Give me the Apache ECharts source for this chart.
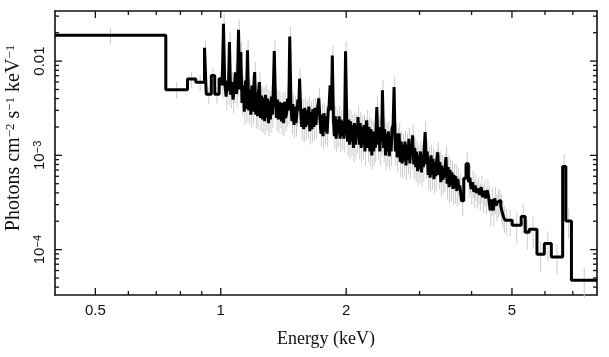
<!DOCTYPE html>
<html><head><meta charset="utf-8">
<script src="https://cdn.jsdelivr.net/npm/echarts@6/dist/echarts.min.js"></script>
<style>html,body{margin:0;padding:0;background:#fff}#c{width:609px;height:357px}</style>
</head><body><div id="c"></div>
<script>
// Spectrum bins: [lower edge (keV), flux (photons cm^-2 s^-1 keV^-1)]
const spectrumBins = [
  [0.4, 0.01875], [0.738, 0.00498], [0.832, 0.00645], [0.871, 0.00598], [0.914, 0.01387],
  [0.923, 0.00444], [0.949, 0.00705], [0.967, 0.00444], [0.991, 0.0065], [1.008, 0.0055],
  [1.015, 0.0249], [1.022, 0.0059], [1.030, 0.0042], [1.037, 0.0062], [1.043, 0.0048],
  [1.049, 0.0159], [1.056, 0.0044], [1.063, 0.0060], [1.070, 0.0039], [1.077, 0.0050],
  [1.084, 0.0076], [1.091, 0.0045], [1.097, 0.0058], [1.103, 0.02153], [1.111, 0.0050],
  [1.117, 0.01245], [1.125, 0.0036], [1.132, 0.0055], [1.139, 0.0029], [1.146, 0.0062],
  [1.152, 0.0031], [1.159, 0.01299], [1.167, 0.0030], [1.174, 0.0050], [1.181, 0.0027],
  [1.188, 0.0055], [1.195, 0.0029], [1.200, 0.0048], [1.206, 0.00765], [1.214, 0.0027],
  [1.220, 0.0046], [1.226, 0.0026], [1.232, 0.0047], [1.238, 0.00599], [1.246, 0.0025],
  [1.253, 0.0043], [1.260, 0.0024], [1.267, 0.0041], [1.274, 0.0023], [1.281, 0.0044],
  [1.288, 0.0025], [1.295, 0.0040], [1.302, 0.0022], [1.309, 0.0038], [1.316, 0.0024],
  [1.323, 0.0042], [1.330, 0.0027], [1.337, 0.0049], [1.344, 0.01276], [1.353, 0.0038],
  [1.360, 0.0025], [1.368, 0.0039], [1.375, 0.0024], [1.383, 0.0037], [1.391, 0.0027],
  [1.399, 0.0023], [1.407, 0.0036], [1.415, 0.0022], [1.423, 0.0037], [1.431, 0.0025],
  [1.439, 0.0028], [1.447, 0.0040], [1.456, 0.0030], [1.464, 0.01828], [1.474, 0.0034],
  [1.482, 0.0023], [1.490, 0.0035], [1.499, 0.0021], [1.507, 0.0033], [1.515, 0.0022],
  [1.523, 0.0028], [1.531, 0.0039], [1.539, 0.0030], [1.546, 0.00651], [1.556, 0.0029],
  [1.564, 0.0020], [1.573, 0.0031], [1.582, 0.0019], [1.591, 0.0032], [1.600, 0.0020],
  [1.609, 0.0030], [1.618, 0.0021], [1.627, 0.0033], [1.636, 0.0018], [1.645, 0.0029],
  [1.655, 0.0019], [1.664, 0.0031], [1.673, 0.0020], [1.683, 0.0032], [1.692, 0.0021],
  [1.701, 0.0030], [1.710, 0.0033], [1.719, 0.00402], [1.731, 0.0023], [1.740, 0.0017],
  [1.750, 0.0027], [1.760, 0.0016], [1.770, 0.0028], [1.780, 0.0018], [1.790, 0.0026],
  [1.800, 0.0017], [1.810, 0.0029], [1.820, 0.0034], [1.830, 0.00552], [1.845, 0.0030],
  [1.852, 0.01149], [1.865, 0.0023], [1.873, 0.0016], [1.883, 0.0026], [1.893, 0.0015],
  [1.903, 0.0024], [1.913, 0.0017], [1.924, 0.0026], [1.934, 0.0015], [1.944, 0.0024],
  [1.954, 0.0016], [1.965, 0.0023], [1.975, 0.0015], [1.983, 0.0021], [1.993, 0.01268],
  [2.007, 0.0021], [2.016, 0.0014], [2.027, 0.0024], [2.038, 0.0013], [2.049, 0.0023],
  [2.060, 0.0014], [2.071, 0.0021], [2.082, 0.0012], [2.093, 0.0022], [2.104, 0.0013],
  [2.115, 0.0021], [2.126, 0.0015], [2.135, 0.00255], [2.150, 0.0013], [2.161, 0.0022],
  [2.173, 0.0012], [2.184, 0.0020], [2.196, 0.0013], [2.207, 0.0021], [2.219, 0.0011],
  [2.230, 0.0019], [2.240, 0.00235], [2.256, 0.0012], [2.268, 0.0020], [2.280, 0.0011],
  [2.292, 0.0019], [2.304, 0.0010], [2.316, 0.0018], [2.328, 0.0011], [2.340, 0.0017],
  [2.350, 0.0012], [2.360, 0.0020], [2.369, 0.00325], [2.385, 0.0013], [2.397, 0.0020],
  [2.409, 0.0011], [2.421, 0.0019], [2.432, 0.0014], [2.444, 0.00489], [2.460, 0.0012],
  [2.473, 0.0019], [2.486, 0.0010], [2.499, 0.0017], [2.512, 0.0011], [2.525, 0.0018],
  [2.538, 0.00098], [2.551, 0.0016], [2.564, 0.0011], [2.577, 0.0019], [2.592, 0.0021],
  [2.606, 0.0053], [2.624, 0.0011], [2.638, 0.0017], [2.652, 0.00095], [2.666, 0.0015],
  [2.680, 0.00171], [2.697, 0.00085], [2.711, 0.0014], [2.725, 0.00082], [2.739, 0.0013],
  [2.754, 0.00088], [2.769, 0.0014], [2.784, 0.00078], [2.799, 0.0013], [2.814, 0.00090],
  [2.829, 0.0015], [2.844, 0.00082], [2.859, 0.0013], [2.873, 0.0010], [2.887, 0.00163],
  [2.906, 0.0008], [2.921, 0.0012], [2.937, 0.00075], [2.952, 0.0011], [2.968, 0.00068],
  [2.984, 0.0010], [3.000, 0.00072], [3.016, 0.0011], [3.032, 0.00066], [3.048, 0.0010],
  [3.064, 0.00075], [3.079, 0.0012], [3.094, 0.00177], [3.114, 0.00080], [3.130, 0.0011],
  [3.147, 0.00062], [3.164, 0.00095], [3.181, 0.00058], [3.198, 0.0010], [3.215, 0.00062],
  [3.232, 0.00092], [3.249, 0.00056], [3.266, 0.00085], [3.283, 0.00060], [3.300, 0.00090],
  [3.318, 0.00108], [3.339, 0.00062], [3.357, 0.00085], [3.375, 0.00052], [3.393, 0.00078],
  [3.411, 0.00055], [3.429, 0.00072], [3.448, 0.00058], [3.460, 0.00080], [3.472, 0.000959],
  [3.494, 0.00050], [3.513, 0.00075], [3.532, 0.00046], [3.551, 0.00070], [3.570, 0.00048],
  [3.589, 0.00066], [3.608, 0.00044], [3.628, 0.00062], [3.648, 0.00045], [3.667, 0.00060],
  [3.687, 0.00042], [3.707, 0.00056], [3.727, 0.00045], [3.747, 0.00048], [3.785, 0.00033],
  [3.830, 0.00057], [3.880, 0.000817], [3.930, 0.00052], [3.960, 0.00058], [3.990, 0.00044],
  [4.020, 0.00052], [4.050, 0.00041], [4.080, 0.00048], [4.110, 0.00040], [4.146, 0.000445],
  [4.181, 0.00038], [4.216, 0.00046], [4.251, 0.00036], [4.286, 0.00042], [4.323, 0.00035],
  [4.360, 0.000426], [4.396, 0.00036], [4.432, 0.000261], [4.469, 0.00034], [4.507, 0.00026],
  [4.544, 0.00035], [4.582, 0.000295], [4.620, 0.00032], [4.659, 0.000333], [4.700, 0.00029],
  [4.737, 0.000249], [4.776, 0.00022], [4.816, 0.000205], [4.896, 0.000205], [5.006, 0.000181],
  [5.262, 0.000225], [5.380, 0.000153], [5.501, 0.000164], [5.741, 0.0000892], [5.979, 0.0001158],
  [6.215, 0.0000835], [6.617, 0.000764], [6.735, 0.000201], [6.946, 0.0000472]
];
const spectrumUpperEdge = 8.0;
// Estimated relative 1-sigma error per energy band: [band start keV, relative error]
const errorBands = [[0.4, 0.2], [1.0, 0.28], [2.0, 0.3], [3.5, 0.32], [5.0, 0.35]];

const xRange = [0.4, 8];
const yRange = [3.3e-5, 0.034];
const xMajorTicks = [0.5, 1, 2, 5];
const xTickLabels = ['0.5', '1', '2', '5'];
const xMinorTicks = [0.6, 0.7, 0.8, 0.9, 3, 4, 6, 7];
const yMajorTicks = [1e-4, 1e-3, 1e-2];
const yTickLabels = ['10{s|\u22124}', '10{s|\u22123}', '0.01'];
const yMinorTicks = [4e-5, 5e-5, 6e-5, 7e-5, 8e-5, 9e-5,
  2e-4, 3e-4, 4e-4, 5e-4, 6e-4, 7e-4, 8e-4, 9e-4,
  2e-3, 3e-3, 4e-3, 5e-3, 6e-3, 7e-3, 8e-3, 9e-3, 2e-2, 3e-2];

const stepData = spectrumBins.map(b => [b[0], b[1]]);
stepData.push([spectrumUpperEdge, spectrumBins[spectrumBins.length - 1][1]]);

function relErr(e) {
  let r = errorBands[0][1];
  errorBands.forEach(b => { if (e >= b[0]) r = b[1]; });
  return r;
}
const errData = spectrumBins.map((b, i) => {
  const hi = i + 1 < spectrumBins.length ? spectrumBins[i + 1][0] : spectrumUpperEdge;
  const c = Math.sqrt(b[0] * hi);
  const r = relErr(c);
  return [c, b[1] * (1 - r), b[1] * (1 + r)];
});

function matchLabel(v, ticks, labels) {
  for (let i = 0; i < ticks.length; i++) {
    if (Math.abs(Math.log10(v) - Math.log10(ticks[i])) < 0.01) return labels[i];
  }
  return '';
}

function renderErr(params, api) {
  const lo = api.coord([api.value(0), api.value(1)]);
  const hi = api.coord([api.value(0), api.value(2)]);
  return { type: 'line', shape: { x1: lo[0], y1: lo[1], x2: hi[0], y2: hi[1] },
    style: { stroke: '#cbcbcb', lineWidth: 1 } };
}

function renderTicks(params, api) {
  const p0 = api.coord([xRange[0], yRange[0]]);
  const p1 = api.coord([xRange[1], yRange[1]]);
  const left = p0[0], bottom = p0[1], right = p1[0], top = p1[1];
  const children = [];
  const add = (x1, y1, x2, y2) => children.push({
    type: 'line', shape: { x1, y1, x2, y2 }, style: { stroke: '#111', lineWidth: 1.3 }
  });
  const MAJ = 7, MIN = 4;
  xMajorTicks.forEach(v => { const x = api.coord([v, yRange[0]])[0]; add(x, bottom, x, bottom - MAJ); add(x, top, x, top + MAJ); });
  xMinorTicks.forEach(v => { const x = api.coord([v, yRange[0]])[0]; add(x, bottom, x, bottom - MIN); add(x, top, x, top + MIN); });
  yMajorTicks.forEach(v => { const y = api.coord([xRange[0], v])[1]; add(left, y, left + MAJ, y); add(right, y, right - MAJ, y); });
  yMinorTicks.forEach(v => { const y = api.coord([xRange[0], v])[1]; add(left, y, left + MIN, y); add(right, y, right - MIN, y); });
  return { type: 'group', children };
}

const axisLineStyle = { show: true, lineStyle: { color: '#111', width: 1.6 } };
const chart = echarts.init(document.getElementById('c'), null, { renderer: 'canvas' });
chart.setOption({
  animation: false,
  backgroundColor: '#fff',
  grid: { left: 55, right: 12, top: 11, bottom: 62, containLabel: false, outerBoundsMode: 'none' },
  xAxis: [{
    type: 'log', logBase: 10, min: xRange[0], max: xRange[1],
    position: 'bottom',
    axisLine: axisLineStyle, axisTick: { show: false }, splitLine: { show: false }, minorTick: { show: false },
    axisLabel: {
      customValues: xMajorTicks, margin: 8,
      color: '#111', fontFamily: 'Liberation Sans', fontSize: 15,
      formatter: v => matchLabel(v, xMajorTicks, xTickLabels)
    },
    name: 'Energy (keV)', nameLocation: 'middle', nameGap: 35,
    nameTextStyle: { fontFamily: 'Liberation Serif', fontSize: 18, color: '#111' }
  }, {
    type: 'log', logBase: 10, min: xRange[0], max: xRange[1],
    position: 'top',
    axisLine: axisLineStyle, axisTick: { show: false }, splitLine: { show: false }, axisLabel: { show: false }
  }],
  yAxis: [{
    type: 'log', logBase: 10, min: yRange[0], max: yRange[1],
    position: 'left',
    axisLine: axisLineStyle, axisTick: { show: false }, splitLine: { show: false }, minorTick: { show: false },
    axisLabel: {
      customValues: yMajorTicks, rotate: 90, margin: 8,
      color: '#111', fontFamily: 'Liberation Sans', fontSize: 15,
      formatter: v => matchLabel(v, yMajorTicks, yTickLabels),
      rich: { s: { fontSize: 11, verticalAlign: 'top', fontFamily: 'Liberation Sans', color: '#111' } }
    },
    name: 'Photons cm{s|\u22122} s{s|\u22121} keV{s|\u22121}', nameLocation: 'middle', nameGap: 24,
    nameTextStyle: {
      fontFamily: 'Liberation Serif', fontSize: 20, color: '#111',
      padding: [0, 0, 0, 30],
      rich: { s: { fontSize: 13, verticalAlign: 'top', fontFamily: 'Liberation Serif', color: '#111' } }
    }
  }, {
    type: 'log', logBase: 10, min: yRange[0], max: yRange[1],
    position: 'right',
    axisLine: axisLineStyle, axisTick: { show: false }, splitLine: { show: false }, axisLabel: { show: false }
  }],
  series: [{
    type: 'custom', renderItem: renderErr, data: errData, silent: true, z: 1,
    encode: { x: 0, y: [1, 2] }
  }, {
    type: 'line', step: 'end', data: stepData, showSymbol: false, symbol: 'none',
    lineStyle: { color: '#000', width: 3 }, z: 3
  }, {
    type: 'custom', renderItem: renderTicks, data: [[xRange[0], yRange[0]]], clip: false, silent: true, z: 5
  }]
});
</script>
</body></html>
